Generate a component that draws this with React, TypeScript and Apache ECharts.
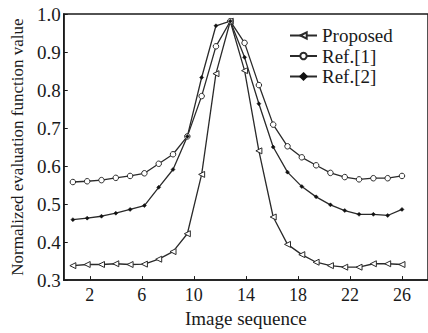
import React, { useEffect, useRef } from "react";
import * as echarts from "echarts";

const imageSeq = [0.7, 1.8, 2.9, 4.0, 5.1, 6.2, 7.3, 8.4, 9.5, 10.6, 11.7, 12.8, 13.9, 15.0, 16.1, 17.2, 18.3, 19.4, 20.5, 21.6, 22.7, 23.8, 24.9, 26.0];
const proposed = [0.338, 0.341, 0.341, 0.343, 0.341, 0.342, 0.355, 0.375, 0.422, 0.578, 0.843, 0.981, 0.851, 0.640, 0.466, 0.394, 0.367, 0.347, 0.338, 0.334, 0.334, 0.343, 0.343, 0.341];
const ref1 = [0.558, 0.560, 0.563, 0.569, 0.574, 0.581, 0.606, 0.631, 0.678, 0.784, 0.915, 0.981, 0.924, 0.813, 0.709, 0.652, 0.623, 0.602, 0.582, 0.571, 0.565, 0.568, 0.568, 0.574];
const ref2 = [0.459, 0.463, 0.468, 0.476, 0.486, 0.496, 0.544, 0.591, 0.678, 0.833, 0.969, 0.981, 0.886, 0.764, 0.650, 0.584, 0.546, 0.519, 0.498, 0.483, 0.473, 0.473, 0.470, 0.486];
const xTicks = [2, 6, 10, 14, 18, 22, 26];
const seriesNames = ["Proposed", "Ref.[1]", "Ref.[2]"];

const FONT = "'Liberation Serif', 'Times New Roman', serif";
const INK = "#1a1a1a";
const LINE = "#2a2a2a";

export default function App() {
  const ref = useRef<HTMLDivElement>(null);
  useEffect(() => {
    if (!ref.current) return;
    const chart = echarts.init(ref.current, undefined, { renderer: "svg" });
    const pair = (ys: number[]) => ys.map((y, i) => [imageSeq[i], y]);
    const lineStyle = { color: LINE, width: 1.3 };
    chart.setOption({
      animation: false,
      backgroundColor: "#fff",
      grid: {
        left: 63.75,
        right: -3.25,
        top: 14,
        bottom: 49,
        show: true,
        borderColor: INK,
        borderWidth: 1.5,
        backgroundColor: "transparent",
      },
      legend: {
        orient: "vertical",
        left: 289,
        top: 26,
        padding: 0,
        itemWidth: 27,
        itemHeight: 8,
        itemGap: 1.5,
        textStyle: { fontFamily: FONT, fontSize: 19, color: INK, lineHeight: 19 },
        data: seriesNames,
      },
      xAxis: {
        type: "value",
        min: 0,
        max: 28,
        name: "Image sequence",
        nameLocation: "middle",
        nameGap: 21,
        nameTextStyle: { fontFamily: FONT, fontSize: 19, color: INK },
        axisLine: { show: true, lineStyle: { color: INK, width: 1.5 } },
        axisTick: { show: true, inside: true, length: 4, customValues: xTicks, lineStyle: { color: INK } },
        axisLabel: { customValues: xTicks, fontFamily: FONT, fontSize: 18, color: INK, margin: 6 },
        splitLine: { show: false },
      },
      yAxis: {
        type: "value",
        min: 0.3,
        max: 1.0,
        interval: 0.1,
        name: "Normalized evaluation function value",
        nameLocation: "middle",
        nameRotate: 90,
        nameGap: 34,
        nameTextStyle: { fontFamily: FONT, fontSize: 17, color: INK },
        axisLine: { show: true, lineStyle: { color: INK, width: 1.5 } },
        axisTick: { show: true, inside: true, length: 4, lineStyle: { color: INK } },
        axisLabel: {
          fontFamily: FONT,
          fontSize: 19,
          color: INK,
          margin: 3,
          formatter: (v: number) => v.toFixed(1),
        },
        splitLine: { show: false },
      },
      series: [
        {
          name: seriesNames[0],
          type: "line",
          data: pair(proposed),
          symbol: "triangle",
          symbolRotate: 90,
          symbolSize: 6,
          lineStyle,
          itemStyle: { color: "#fff", borderColor: LINE, borderWidth: 1 },
        },
        {
          name: seriesNames[1],
          type: "line",
          data: pair(ref1),
          symbol: "circle",
          symbolSize: 5.5,
          lineStyle,
          itemStyle: { color: "#fff", borderColor: LINE, borderWidth: 1 },
        },
        {
          name: seriesNames[2],
          type: "line",
          data: pair(ref2),
          symbol: "diamond",
          symbolSize: 4,
          lineStyle,
          itemStyle: { color: "#111", borderColor: "#111", borderWidth: 0.5 },
        },
      ],
    });
    return () => chart.dispose();
  }, []);
  return <div ref={ref} style={{ width: 428, height: 333, position: "absolute", left: 0, top: 0 }} />;
}
